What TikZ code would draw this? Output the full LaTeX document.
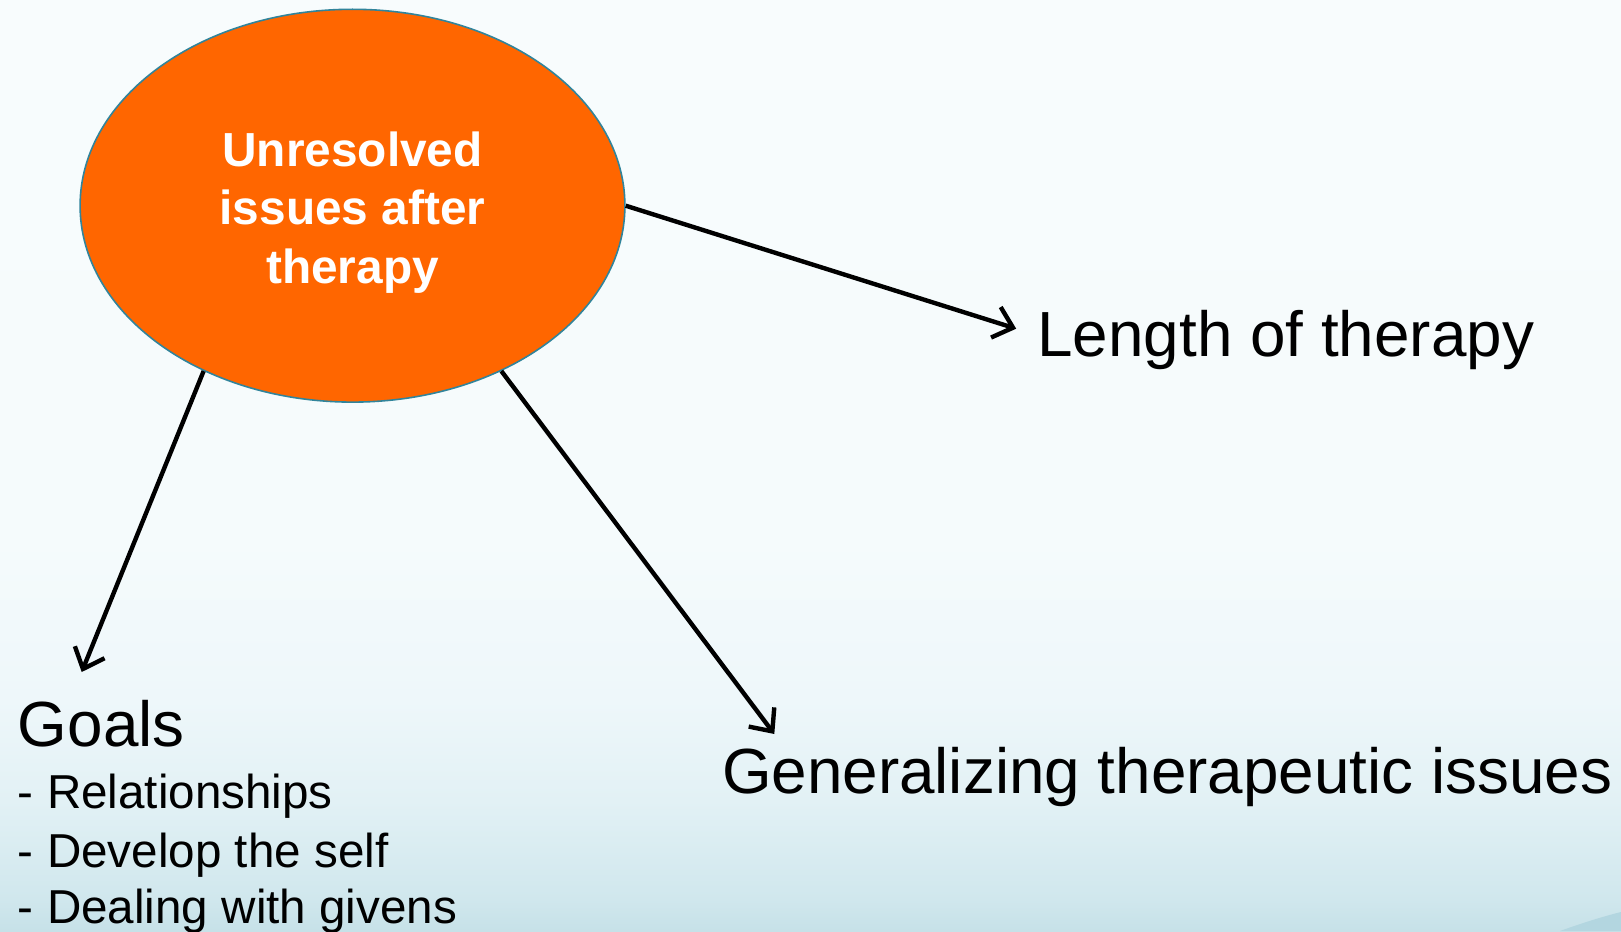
\documentclass[tikz,border=0pt]{standalone}
\usepackage{fontspec}
\setmainfont{Liberation Sans}
\usetikzlibrary{shapes.geometric,arrows.meta}
\definecolor{bgA}{HTML}{C6E1E8}
\definecolor{bgB}{HTML}{D0E7ED}
\definecolor{bgC}{HTML}{E2F1F5}
\definecolor{bgD}{HTML}{EEF7FA}
\definecolor{bgE}{HTML}{F5FBFC}
\definecolor{bgF}{HTML}{F8FCFD}
\definecolor{wave}{HTML}{B3D6E0}
\definecolor{ellfill}{HTML}{FF6600}
\definecolor{ellline}{HTML}{31849B}
% the path box spans 25bp (bottom) to 75bp (top) of the shading
\pgfdeclareverticalshading{slidebg}{100bp}{%
  color(0bp)=(bgA); color(25bp)=(bgA); color(26.7bp)=(bgB);
  color(32bp)=(bgC); color(37.4bp)=(bgD); color(46bp)=(bgE);
  color(75bp)=(bgF); color(100bp)=(bgF)}
\tikzset{
  hub/.style={ellipse, fill=ellfill, draw=ellline, line width=0.8pt,
    minimum width=272.4pt, minimum height=196.4pt, inner sep=0pt},
  hubtext/.style={inner sep=0pt, text=white, align=center,
    font=\bfseries\fontsize{23.9}{29.2}\selectfont},
  topic/.style={anchor=base west, inner sep=0pt, font=\fontsize{31.9}{36}\selectfont},
  subitem/.style={anchor=base west, inner sep=0pt, font=\fontsize{23.8}{28}\selectfont},
  link/.style={line width=2.2pt, -{Straight Barb[length=9pt,width=16pt,line width=2.2pt]}}
}
\begin{document}
\begin{tikzpicture}[x=0.5pt,y=-0.5pt]
  % slide background
  \fill[shading=slidebg] (0,0) rectangle (1621,931);
  \fill[wave] (1560,931) .. controls (1585,922) and (1605,916) .. (1621,912) -- (1621,931) -- cycle;
  \useasboundingbox (0,0) rectangle (1621,931);

  % central idea
  \node[hub] (hub) at (352.5,205.7) {};
  \node[hubtext] (hubtext) at ([yshift=-3.3pt]hub.center) {Unresolved\\issues after\\therapy};

  % surrounding topics
  \node[topic] (len) at (1037,356.7) {Length of therapy};
  \node[topic] (gen) at (721.6,793) {Generalizing therapeutic issues};
  \node[topic] (goals) at (17.6,746) {Goals};
  \node[subitem] (g1) at (17.6,808.5) {- Relationships};
  \node[subitem] (g2) at (17.6,867) {- Develop the self};
  \node[subitem] (g3) at (17.6,923) {- Dealing with givens};

  % arrow tips in front of the topics
  \coordinate (lenTip) at (1016.2,328.7);
  \coordinate (goalsTip) at (81.7,672);
  \coordinate (genTip) at (774.3,734);

  \draw[link] (hub.0) -- (lenTip);
  \draw[link] (hub.228) -- (goalsTip);
  \draw[link] (hub.312) -- (genTip);
\end{tikzpicture}
\end{document}
